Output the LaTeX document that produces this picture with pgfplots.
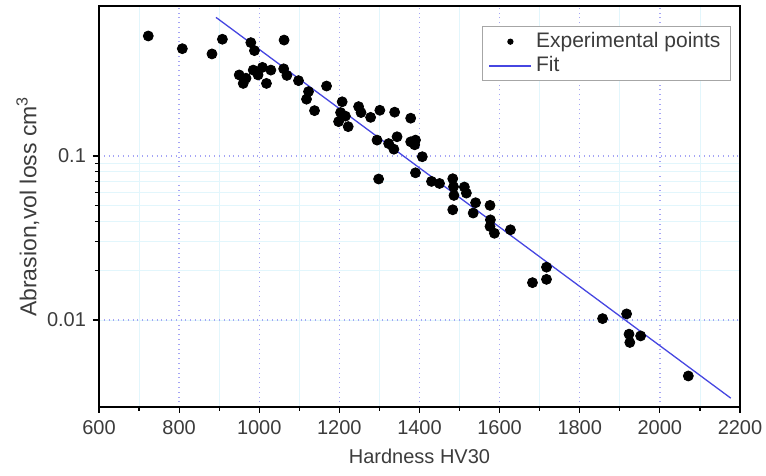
\documentclass[border=0pt]{standalone}
\usepackage{pgfplots}
\pgfplotsset{compat=1.18}
\usepackage{fontspec}
\setmainfont{Liberation Sans}
\definecolor{txt}{RGB}{60,60,60}
\definecolor{majgrid}{RGB}{165,165,245}
\definecolor{mingrid}{RGB}{226,246,252}
\definecolor{fitblue}{RGB}{70,70,225}
\begin{document}
\begin{tikzpicture}
\begin{axis}[
  scale only axis,
  width=320.5pt, height=200.5pt,
  ymode=log,
  xmin=600, xmax=2200,
  ymin=0.00295, ymax=0.821,
  xtick={600,800,...,2200},
  minor x tick num=1,
  ytick={0.01,0.1},
  yticklabels={0.01,0.1},
  /pgf/number format/1000 sep={},
  /pgf/number format/assume math mode=true,
  tick pos=left,
  tick align=outside,
  major tick length=3pt,
  minor tick length=2pt,
  every tick/.style={black, line width=0.6pt},
  axis line style={black, line width=0.8pt},
  xmajorgrids, ymajorgrids, xminorgrids, yminorgrids,
  x grid style={},
  major grid style={draw=majgrid, dotted, line width=0.7pt},
  minor grid style={draw=mingrid, line width=0.4pt},
  tick label style={font=\fontsize{10}{12}\selectfont, text=txt},
  xlabel={Hardness HV30},
  ylabel={Abrasion,vol loss cm\textsuperscript{3}},
  xlabel style={at={(axis description cs:0.5,-0.122)}, anchor=center, font=\fontsize{10}{12}\selectfont, text=txt},
  ylabel style={at={(axis description cs:-0.111,0.5)}, anchor=center, font=\fontsize{11.5}{13}\selectfont, text=txt},
  legend cell align=left,
  legend style={at={(axis description cs:0.986,0.95)}, anchor=north east,
    draw=gray!70, line width=0.5pt, fill=white, font=\fontsize{10.5}{11.7}\selectfont, text=txt,
    inner xsep=3pt, inner ysep=1pt, row sep=-1pt},
]
\addplot[only marks, mark=*, mark size=2.5pt, black,
  legend image code/.code={\fill[black] (10.5pt,0pt) circle (1.3pt);}]
  table[row sep=\\] {
x y\\
723 0.539\\
808 0.451\\
882 0.419\\
908 0.515\\
979 0.491\\
988 0.439\\
1062 0.509\\
950 0.312\\
960 0.277\\
967 0.298\\
985 0.334\\
997 0.312\\
1008 0.347\\
1018 0.277\\
1029 0.334\\
1061 0.340\\
1069 0.310\\
1098 0.288\\
1168 0.267\\
1123 0.247\\
1118 0.222\\
1138 0.189\\
1207 0.214\\
1203 0.184\\
1215 0.175\\
1198 0.162\\
1222 0.151\\
1248 0.200\\
1254 0.184\\
1278 0.172\\
1301 0.190\\
1338 0.185\\
1378 0.170\\
1294 0.125\\
1323 0.119\\
1336 0.110\\
1344 0.131\\
1378 0.122\\
1390 0.125\\
1388 0.117\\
1407 0.099\\
1390 0.079\\
1298 0.0724\\
1430 0.070\\
1450 0.068\\
1483 0.0727\\
1485 0.065\\
1486 0.0575\\
1483 0.047\\
1512 0.0647\\
1517 0.0594\\
1540 0.0519\\
1534 0.0449\\
1576 0.050\\
1577 0.0408\\
1576 0.0372\\
1587 0.0338\\
1627 0.0355\\
1717 0.0210\\
1682 0.0169\\
1717 0.0177\\
1857 0.0102\\
1917 0.0109\\
1923 0.0082\\
1925 0.0073\\
1952 0.0080\\
2071 0.00456\\
};
\addlegendentry{Experimental points}
\addplot[fitblue, line width=0.65pt,
  legend image code/.code={\draw[fitblue, line width=0.7pt] (0pt,0pt) -- (21pt,0pt);}]
  coordinates {(892,0.70) (2177,0.00334)};
\addlegendentry{Fit}
\end{axis}
\pgfresetboundingbox
\path[use as bounding box] (-49.5pt,-34.5pt) rectangle (333.5pt,203.5pt);
\end{tikzpicture}
\end{document}
